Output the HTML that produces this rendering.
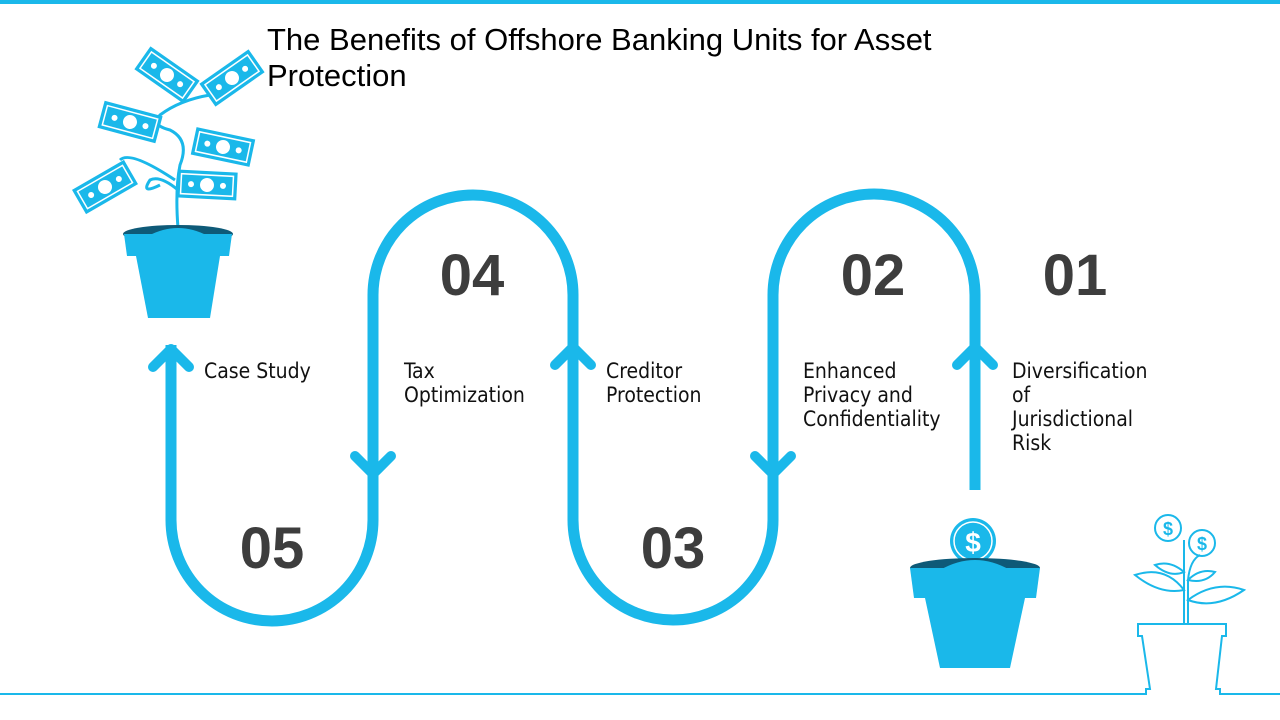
<!DOCTYPE html>
<html><head><meta charset="utf-8"><style>
html,body{margin:0;padding:0;background:#fff;}
body{width:1280px;height:720px;position:relative;overflow:hidden;font-family:"Liberation Sans",sans-serif;}
.t{position:absolute;font-size:21px;line-height:24px;color:#111;font-family:"DejaVu Sans Condensed","Liberation Sans",sans-serif;}
</style></head><body>
<svg width="1280" height="720" style="position:absolute;left:0;top:0">
<defs>
<g id="bill">
<rect x="-30" y="-14" width="60" height="28" fill="#1ab8ea"/>
<rect x="-26" y="-10" width="52" height="20" fill="none" stroke="#fff" stroke-width="1.5"/>
<circle cx="0" cy="0" r="7" fill="#fff"/>
<circle cx="-16" cy="0" r="3" fill="#fff"/>
<circle cx="16" cy="0" r="3" fill="#fff"/>
</g>
</defs>
<rect x="0" y="0" width="1280" height="4" fill="#1ab8ea"/>
<path d="M0,694 L1146,694 L1146,689 L1150,689 L1142,636 L1138,636 L1138,624 L1226,624 L1226,636 L1222,636 L1216,689 L1220,689 L1220,694 L1280,694" fill="none" stroke="#1ab8ea" stroke-width="2"/>
<g fill="none" stroke="#1ab8ea" stroke-width="2">
<path d="M1184,624 L1184,540 M1188,624 L1188,580 Q1190,560 1200,555"/>
<circle cx="1168" cy="528" r="13"/><circle cx="1202" cy="543" r="13"/>
<path d="M1184,590 Q1165,565 1135,575 Q1160,595 1184,590Z"/>
<path d="M1188,600 Q1215,580 1244,590 Q1215,610 1188,600Z"/>
<path d="M1184,572 Q1170,560 1155,565 Q1170,578 1184,572Z"/>
<path d="M1188,580 Q1200,568 1215,572 Q1205,584 1188,580Z"/>
</g>
<text x="1168" y="535" font-size="18" font-weight="bold" fill="#1ab8ea" text-anchor="middle">$</text>
<text x="1202" y="550" font-size="18" font-weight="bold" fill="#1ab8ea" text-anchor="middle">$</text>
<path d="M975,490 L975,295 A101,101 0 0 0 773,295 L773,520 A100,100 0 0 1 573,520 L573,295 A100,100 0 0 0 373,295 L373,520 A101,101 0 0 1 171,520 L171,345" fill="none" stroke="#1ab8ea" stroke-width="11"/>
<g fill="none" stroke="#1ab8ea" stroke-width="10" stroke-linecap="round" stroke-linejoin="round">
<path d="M957,365 L975,347 L993,365"/>
<path d="M555,365 L573,347 L591,365"/>
<path d="M153,367 L171,349 L189,367"/>
<path d="M755,456 L773,474 L791,456"/>
<path d="M355,456 L373,474 L391,456"/>
</g>
<circle cx="973" cy="541" r="23" fill="#1ab8ea"/>
<circle cx="973" cy="541" r="19" fill="none" stroke="#fff" stroke-width="1.5"/>
<text x="973" y="552" font-size="28" font-weight="bold" fill="#fff" text-anchor="middle">$</text>
<ellipse cx="975" cy="568" rx="65" ry="10" fill="#0e5a78"/>
<path d="M940,570 Q975,550 1010,570Z" fill="#1ab8ea"/>
<path d="M910,568 L1040,568 L1036,598 L914,598Z" fill="#1ab8ea"/>
<path d="M925,598 L1025,598 L1010,668 L940,668Z" fill="#1ab8ea"/>
<g fill="none" stroke="#1ab8ea" stroke-width="3">
<path d="M178,228 Q175,190 180,165 Q190,140 170,130 Q150,125 160,115 Q180,100 210,95"/>
<path d="M178,190 Q160,175 150,180 Q140,195 160,185"/>
<path d="M175,180 Q130,150 120,160"/>
</g>
<use href="#bill" transform="translate(167,75) rotate(35)"/>
<use href="#bill" transform="translate(232,78) rotate(-35)"/>
<use href="#bill" transform="translate(130,122) rotate(15)"/>
<use href="#bill" transform="translate(223,147) rotate(12)"/>
<use href="#bill" transform="translate(105,187) rotate(-30)"/>
<use href="#bill" transform="translate(207,185) rotate(3)"/>
<ellipse cx="178" cy="234" rx="55" ry="9" fill="#0e5a78"/>
<path d="M148,236 Q178,220 208,236Z" fill="#1ab8ea"/>
<path d="M124,234 L232,234 L229,256 L127,256Z" fill="#1ab8ea"/>
<path d="M136,256 L220,256 L210,318 L148,318Z" fill="#1ab8ea"/>
<g font-size="58" font-weight="bold" fill="#3d3d3d" text-anchor="middle">
<text x="472" y="295">04</text>
<text x="873" y="295">02</text>
<text x="1075" y="295">01</text>
<text x="272" y="568">05</text>
<text x="673" y="568">03</text>
</g>
</svg>
<div style="position:absolute;left:267px;top:22px;font-size:31px;line-height:36px;color:#000;">The Benefits of Offshore Banking Units for Asset<br>Protection</div>
<div class="t" style="left:204px;top:359px">Case Study</div>
<div class="t" style="left:404px;top:359px">Tax<br>Optimization</div>
<div class="t" style="left:606px;top:359px">Creditor<br>Protection</div>
<div class="t" style="left:803px;top:359px">Enhanced<br>Privacy and<br>Confidentiality</div>
<div class="t" style="left:1012px;top:359px">Diversification<br>of<br>Jurisdictional<br>Risk</div>
</body></html>
